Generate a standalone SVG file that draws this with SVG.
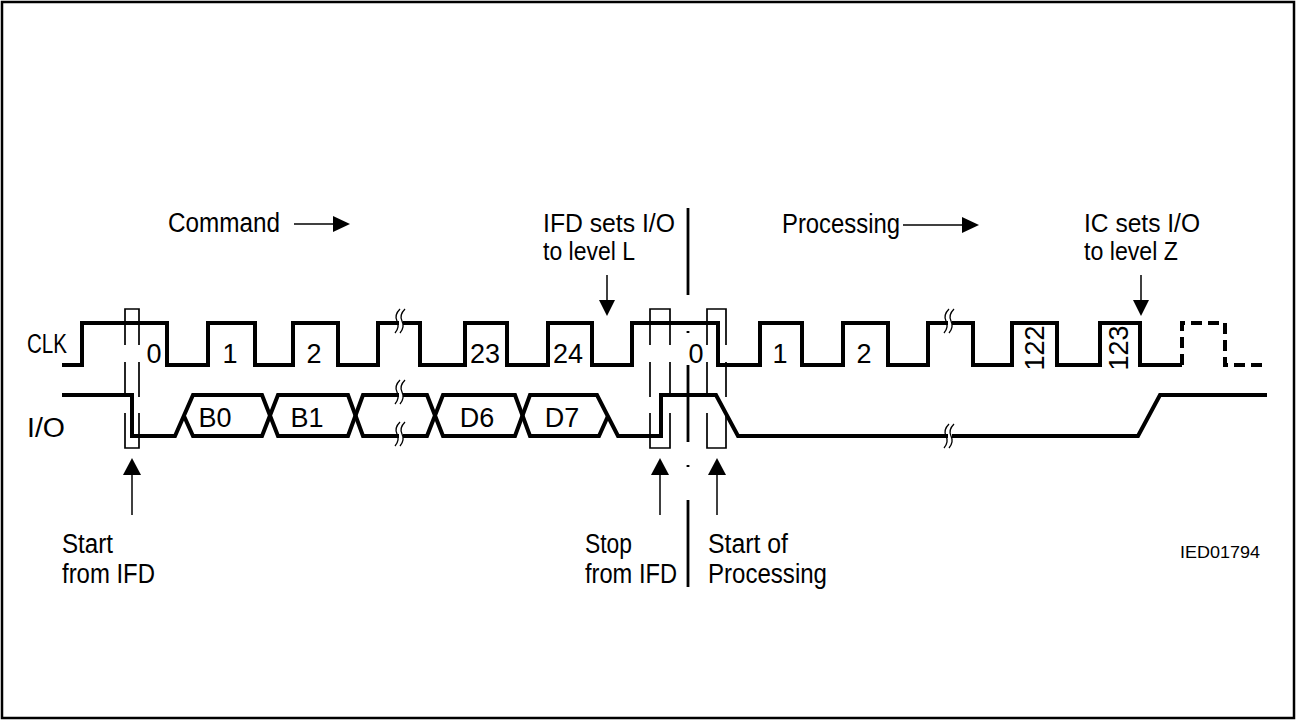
<svg xmlns="http://www.w3.org/2000/svg" width="1297" height="721" viewBox="0 0 1297 721">
<style>
.wave{fill:none;stroke:#000;stroke-width:4;stroke-linejoin:miter;stroke-linecap:butt}
.dash{fill:none;stroke:#000;stroke-width:4;stroke-dasharray:11 6}
.box{fill:none;stroke:#000;stroke-width:1.7}
.thin{fill:none;stroke:#000;stroke-width:1.5}
.sep{fill:none;stroke:#000;stroke-width:2.8}
.brk{fill:none;stroke:#000;stroke-width:1.3}
.gap{fill:#fff;stroke:none}
.head{fill:#000;stroke:none}
text{font-family:"Liberation Sans",Arial,sans-serif;font-size:27px;fill:#000}
.c{text-anchor:middle}
.sm{font-size:17px}
.two{font-size:25px}
</style>
<defs>
<g id="brkmark">
<path class="brk" d="M1,-12 Q-5,-6 -2,0 Q1,6 -4,12"/>
<path class="brk" d="M6,-12 Q0,-6 3,0 Q6,6 1,12"/>
</g>
</defs>
<rect x="2" y="2" width="1292" height="716" fill="#fff" stroke="#000" stroke-width="2.5"/>

<g id="labels">
<text x="27" y="353" textLength="40" lengthAdjust="spacingAndGlyphs">CLK</text>
<text x="27" y="437" textLength="38" lengthAdjust="spacingAndGlyphs">I/O</text>
</g>

<g id="clk">
<path class="wave" d="M62,365 H82 V323 H167 V365 H208 V323 H255 V365 H293 V323 H338 V365 H378 V323 H420 V365 H465 V323 H507 V365 H548 V323 H592 V365 H632 V323 H718 V365 H760 V323 H802 V365 H843 V323 H888 V365 H928 V323 H973 V365 H1012 V323 H1057 V365 H1100 V323 H1140 V365 H1182"/>
<path class="dash" d="M1182,365 V323 H1225 V365 H1267"/>
<text class="c" x="154" y="363">0</text>
<text class="c" x="230" y="363">1</text>
<text class="c" x="314" y="363">2</text>
<text class="c" x="485" y="363">23</text>
<text class="c" x="568" y="363">24</text>
<text class="c" x="696" y="363">0</text>
<text class="c" x="780" y="363">1</text>
<text class="c" x="864" y="363">2</text>
<text class="c" transform="translate(1044,348) rotate(-90)">122</text>
<text class="c" transform="translate(1128,348) rotate(-90)">123</text>
</g>

<g id="io">
<path class="wave" d="M62,395 H132 V436 H175 L193,395 H262 L278,436 H348 L363,395 H427 L443,436 H515 L530,395 H597 L618,436 H661 V395 H716 L738,436 H1138 L1160,395 H1267"/>
<path class="wave" d="M184,416 L193,436 H262 L278,395 H348 L363,436 H427 L443,395 H515 L530,436 H599 L608,416"/>
<text class="c" x="215" y="427">B0</text>
<text class="c" x="307" y="427">B1</text>
<text class="c" x="477" y="427">D6</text>
<text class="c" x="562" y="427">D7</text>
</g>

<g id="breaks">
<rect class="gap" x="399" y="318" width="4" height="10"/>
<use href="#brkmark" x="399" y="321"/>
<rect class="gap" x="399" y="390" width="4" height="10"/>
<use href="#brkmark" x="399" y="392"/>
<rect class="gap" x="399" y="431" width="4" height="10"/>
<use href="#brkmark" x="399" y="434"/>
<rect class="gap" x="948" y="318" width="4" height="10"/>
<use href="#brkmark" x="948" y="321"/>
<rect class="gap" x="948" y="431" width="4" height="10"/>
<use href="#brkmark" x="948" y="436"/>
</g>

<g id="box-start">
<path class="box" d="M125,345 V309 H139 V345 M125,362 V397 M139,362 V397 M125,413 V448 H139 V413"/>
</g>
<g id="box-stop">
<path class="box" d="M650,345 V309 H670 V345 M650,362 V397 M670,362 V397 M650,413 V448 H670 V413"/>
</g>
<g id="box-proc">
<path class="box" d="M707,345 V309 H726 V345 M707,362 V397 M726,362 V397 M707,413 V448 H726 V413"/>
</g>

<g id="separator">
<path class="sep" d="M688,208 V295 M688,365 V442 M688,500 V587"/>
<path class="sep" d="M688,331 V333 M688,465 V467"/>
</g>

<g id="connectors">
<line class="thin" x1="294" y1="224" x2="334" y2="224"/>
<polygon class="head" points="333,216 350,224 333,232"/>
<line class="thin" x1="903" y1="225" x2="963" y2="225"/>
<polygon class="head" points="962,217 979,225 962,233"/>
<line class="thin" x1="607" y1="275" x2="607" y2="301"/>
<polygon class="head" points="599,300 615,300 607,316"/>
<line class="thin" x1="1141" y1="275" x2="1141" y2="301"/>
<polygon class="head" points="1133,300 1149,300 1141,316"/>
<line class="thin" x1="132" y1="474" x2="132" y2="515"/>
<polygon class="head" points="123,475 141,475 132,458"/>
<line class="thin" x1="660" y1="474" x2="660" y2="515"/>
<polygon class="head" points="651,475 669,475 660,458"/>
<line class="thin" x1="717" y1="474" x2="717" y2="515"/>
<polygon class="head" points="708,475 726,475 717,458"/>
</g>

<g id="annotations">
<text x="168" y="232" textLength="112" lengthAdjust="spacingAndGlyphs">Command</text>
<text class="two" x="543" y="232" textLength="132" lengthAdjust="spacingAndGlyphs">IFD sets I/O</text>
<text class="two" x="543" y="260" textLength="92" lengthAdjust="spacingAndGlyphs">to level L</text>
<text x="782" y="233" textLength="118" lengthAdjust="spacingAndGlyphs">Processing</text>
<text class="two" x="1084" y="232" textLength="116" lengthAdjust="spacingAndGlyphs">IC sets I/O</text>
<text class="two" x="1084" y="260" textLength="94" lengthAdjust="spacingAndGlyphs">to level Z</text>
<text x="62" y="553" textLength="51" lengthAdjust="spacingAndGlyphs">Start</text>
<text x="62" y="583" textLength="93" lengthAdjust="spacingAndGlyphs">from IFD</text>
<text x="585" y="553" textLength="47" lengthAdjust="spacingAndGlyphs">Stop</text>
<text x="585" y="583" textLength="92" lengthAdjust="spacingAndGlyphs">from IFD</text>
<text x="708" y="553" textLength="80" lengthAdjust="spacingAndGlyphs">Start of</text>
<text x="708" y="583" textLength="119" lengthAdjust="spacingAndGlyphs">Processing</text>
<text class="sm" x="1180" y="558" textLength="80" lengthAdjust="spacingAndGlyphs">IED01794</text>
</g>
</svg>
